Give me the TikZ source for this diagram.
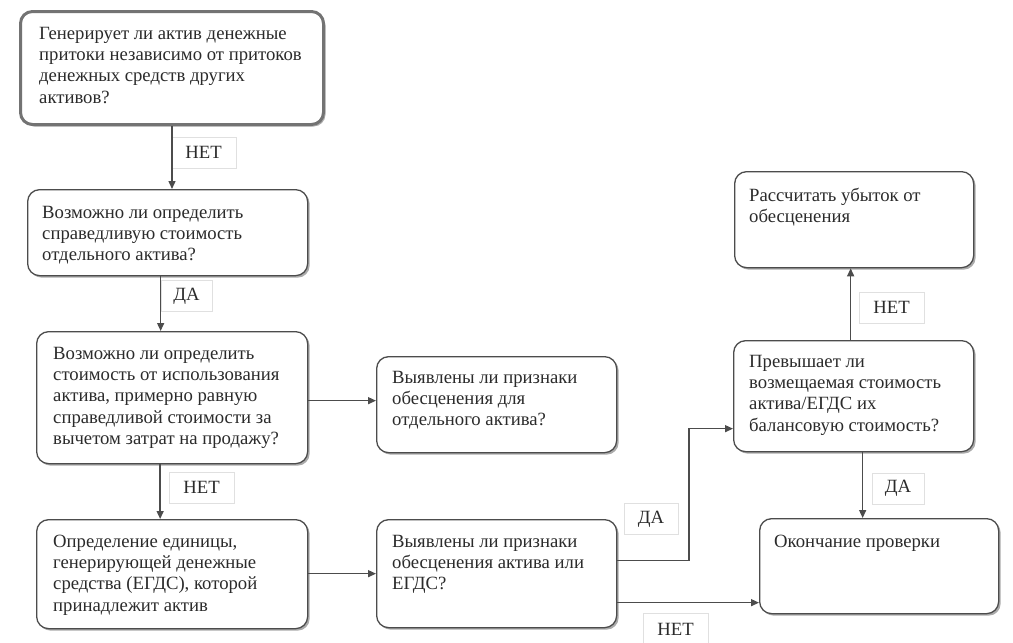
\documentclass[tikz,border=0pt]{standalone}
\usepackage{fontspec}
\setmainfont{Liberation Serif}
\usetikzlibrary{arrows.meta,shadows,calc}

\tikzset{
  box/.style={draw=kLine, line width=1.3pt, fill=white, rounded corners=12pt,
    drop shadow={shadow xshift=2pt, shadow yshift=-2pt, fill=black!55, opacity=0.6},
    anchor=north west, inner sep=0pt},
  txt/.style={anchor=north west, align=left, inner sep=0pt, text=kText,
    font=\fontsize{18.7}{21.2}\selectfont},
  lbl/.style={draw=black!12, fill=white, line width=0.6pt, minimum height=31pt,
    inner sep=0pt, text=kText, font=\fontsize{18.7}{21.2}\selectfont},
  arr/.style={draw=kLine, line width=1.4pt, -{Triangle[length=8pt,width=7pt]}}
}

\begin{document}
\begin{tikzpicture}[x=1pt,y=-1pt]
  \definecolor{kLine}{rgb}{0.30,0.30,0.30}
  \definecolor{kText}{rgb}{0.17,0.17,0.17}
  \definecolor{kFrame}{rgb}{0.45,0.45,0.45}
  \useasboundingbox (0,0) rectangle (1013,643);

  % boxes
  \node[box, draw=kFrame, line width=3pt, minimum width=303pt, minimum height=113pt] (A) at (19,10) {};
  \node[box, minimum width=280pt, minimum height=86pt] (B) at (27,189) {};
  \node[box, minimum width=271pt, minimum height=132pt] (C) at (36,331) {};
  \node[box, minimum width=240pt, minimum height=96pt] (D) at (376,356) {};
  \node[box, minimum width=271pt, minimum height=109pt] (E) at (36,519) {};
  \node[box, minimum width=240pt, minimum height=108pt] (F) at (376,519) {};
  \node[box, minimum width=239pt, minimum height=96pt] (G) at (734,171) {};
  \node[box, minimum width=240pt, minimum height=111pt] (H) at (733,340) {};
  \node[box, minimum width=239pt, minimum height=95pt] (I) at (759,518) {};

  % texts
  \node[txt] (At) at ($(A.north west)+(20,17)$) {Генерирует ли актив денежные\\притоки независимо от притоков\\денежных средств других\\активов?};
  \node[txt] (Bt) at ($(B.north west)+(15,17)$) {Возможно ли определить\\справедливую стоимость\\отдельного актива?};
  \node[txt] (Ct) at ($(C.north west)+(17,16)$) {Возможно ли определить\\стоимость от использования\\актива, примерно равную\\справедливой стоимости за\\вычетом затрат на продажу?};
  \node[txt] (Dt) at ($(D.north west)+(16,15)$) {Выявлены ли признаки\\обесценения для\\отдельного актива?};
  \node[txt] (Et) at ($(E.north west)+(17,16)$) {Определение единицы,\\генерирующей денежные\\средства (ЕГДС), которой\\принадлежит актив};
  \node[txt] (Ft) at ($(F.north west)+(16,16)$) {Выявлены ли признаки\\обесценения актива или\\ЕГДС?};
  \node[txt] (Gt) at ($(G.north west)+(15,17)$) {Рассчитать убыток от\\обесценения};
  \node[txt] (Ht) at ($(H.north west)+(16,15)$) {Превышает ли\\возмещаемая стоимость\\актива/ЕГДС их\\балансовую стоимость?};
  \node[txt] (It) at ($(I.north west)+(15,17)$) {Окончание проверки};

  % labels
  \foreach \n/\x/\y/\w/\t in {l1/203.5/152.5/65/НЕТ, l2/186.5/296/51/ДА, l3/201.5/487.5/65/НЕТ,
      l4/651/519/54/ДА, l5/675.5/629/65/НЕТ, l6/891.5/307.5/65/НЕТ, l7/898/488.5/52/ДА}
  {
    \node[lbl, minimum width=\w pt] (\n) at (\x,\y) {\t};
  }

  % connectors
  \coordinate (bs) at ($(B.south)+(-7,0)$);
  \coordinate (cs) at ($(C.south)+(-12,0)$);
  \coordinate (ce) at ($(C.east)+(0,3)$);
  \coordinate (fy) at ($(F.east)+(0,-13)$);
  \coordinate (fn) at ($(F.east)+(0,29)$);
  \coordinate (hy) at ($(H.west)+(0,32.5)$);
  \coordinate (hd) at ($(H.south)+(9,0)$);
  \coordinate (hu) at ($(H.north)+(-3,0)$);
  \draw[arr] (A.south) -- (A.south |- B.north);
  \draw[arr] (bs) -- (bs |- C.north);
  \draw[arr] (cs) -- (cs |- E.north);
  \draw[arr] (ce) -- (ce -| D.west);
  \draw[arr] (E.east |- F.west) -- (F.west);
  \draw[arr] (fy) -| ($(hy)+(-44,0)$) -- (hy);
  \draw[arr] (fn) -- (fn -| I.west);
  \draw[arr] (hd) -- (hd |- I.north);
  \draw[arr] (hu) -- (hu |- G.south);
\end{tikzpicture}
\end{document}
